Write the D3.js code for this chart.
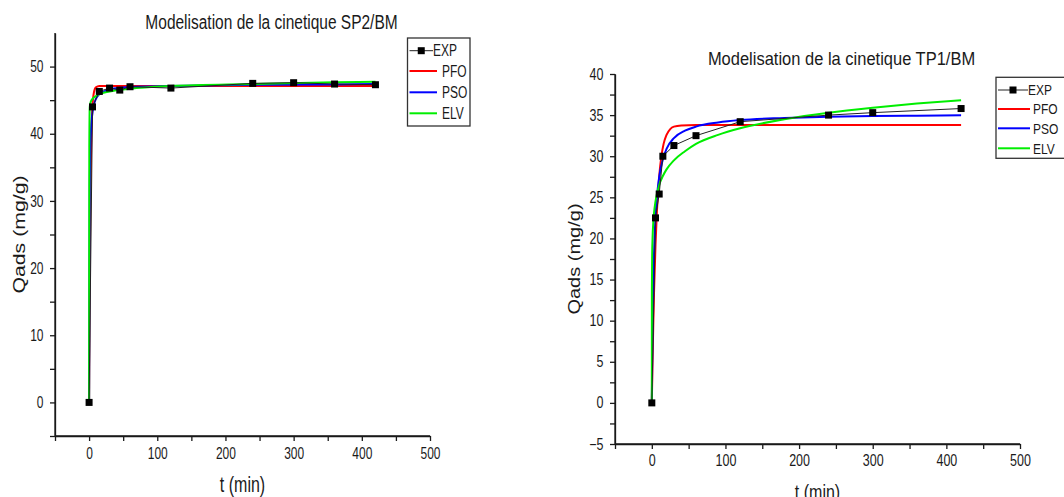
<!DOCTYPE html>
<html>
<head>
  <meta charset="utf-8">
  <script src="https://d3js.org/d3.v7.min.js"></script>
  <style>
  body { margin: 0; background: white; }
  svg { display: block; font-family: "Liberation Sans", Arial, sans-serif; }
  .axis path, .axis line { stroke: #1a1a1a; stroke-width: 1.3px; }
  .axis text { fill: #1a1a1a; }
  </style>
</head>
<body>
<svg id="chart" width="1064" height="497"></svg>
<script>
// ---- SP2/BM (left panel) ----
const tSP2 = [0, 5, 15, 30, 45, 60, 120, 240, 300, 360, 420];
const qSP2 = [0, 44.0, 46.3, 46.8, 46.5, 47.0, 46.8, 47.5, 47.6, 47.4, 47.3];
const tPfoSP2 = [0, 1, 2, 3, 4, 5, 7, 10, 15, 20, 30, 60, 120, 240, 360, 420];
const qPfoSP2 = [0, 19.9, 31.4, 38.1, 41.9, 44.1, 46.1, 46.9, 47.1, 47.1, 47.1, 47.1, 47.1, 47.1, 47.1, 47.1];
const tPsoSP2 = [0, 1, 2, 3, 4, 5, 7, 10, 15, 20, 30, 60, 120, 240, 360, 420];
const qPsoSP2 = [0, 32.2, 38.2, 40.9, 42.3, 43.2, 44.3, 45.2, 45.9, 46.2, 46.6, 46.95, 47.1, 47.3, 47.35, 47.4];
const tElvSP2 = [0, 0.3, 0.6, 1, 2, 3, 5, 10, 15, 30, 60, 120, 240, 360, 420];
const qElvSP2 = [0, 38, 42, 44.0, 44.6, 44.9, 45.2, 45.6, 45.9, 46.3, 46.7, 47.1, 47.4, 47.65, 47.75];

// ---- TP1/BM (right panel) ----
const tTP1 = [0, 5, 10, 15, 30, 60, 120, 240, 300, 420];
const qTP1 = [0, 22.5, 25.4, 30.0, 31.3, 32.5, 34.2, 35.0, 35.3, 35.8];
const tPfoTP1 = [0, 1, 2, 3, 5, 7, 10, 13, 16, 20, 25, 30, 40, 60, 120, 240, 420];
const qPfoTP1 = [0, 5.2, 9.6, 13.4, 19.2, 23.4, 27.5, 30.0, 31.5, 32.6, 33.3, 33.6, 33.75, 33.8, 33.8, 33.8, 33.8];
const tPsoTP1 = [0, 1, 2, 3, 5, 7, 10, 15, 20, 30, 45, 60, 90, 120, 180, 240, 300, 360, 420];
const qPsoTP1 = [0, 9.2, 14.6, 18.2, 22.5, 25.1, 27.5, 29.6, 30.9, 32.2, 33.1, 33.6, 34.1, 34.4, 34.65, 34.8, 34.88, 34.92, 34.97];
const tElvTP1 = [0, 0.1, 0.5, 1, 2, 3, 5, 10, 15, 20, 30, 45, 60, 90, 120, 180, 240, 300, 360, 420];
const qElvTP1 = [0, 13.6, 18.1, 20.0, 21.96, 23.1, 24.5, 26.5, 27.6, 28.4, 29.5, 30.6, 31.5, 32.6, 33.4, 34.5, 35.3, 35.9, 36.4, 36.8];

const legendNames = ["EXP", "PFO", "PSO", "ELV"];
const modelColors = ["#ff0000", "#0000ff", "#00ee00"];
const xMajor = [0, 100, 200, 300, 400, 500];
const xMinor = [-50, 50, 150, 250, 350, 450];

const svg = d3.select("#chart");

function zip(ts, qs) { return ts.map(function(t, i) { return [t, qs[i]]; }); }

function panel(cfg) {
  var x = d3.scaleLinear().domain(cfg.xDomain).range(cfg.xRange);
  var y = d3.scaleLinear().domain(cfg.yDomain).range(cfg.yRange);
  var sy = cfg.sy;
  var g = svg.append("g");
  var axisY = cfg.yRange[0];

  // minor ticks
  g.append("g").attr("class", "axis").attr("transform", "translate(" + cfg.xRange[0] + ",0)")
    .call(d3.axisLeft(y).tickValues(cfg.yMinor).tickSize(5).tickSizeOuter(0).tickFormat(""));
  g.append("g").attr("class", "axis").attr("transform", "translate(0," + axisY + ")")
    .call(d3.axisBottom(x).tickValues(xMinor).tickSize(5).tickSizeOuter(0).tickFormat(""));

  // major ticks
  var ya = g.append("g").attr("class", "axis").attr("transform", "translate(" + cfg.xRange[0] + ",0)")
    .call(d3.axisLeft(y).tickValues(cfg.yMajor).tickSize(5).tickSizeOuter(0).tickPadding(6.5));
  ya.selectAll("text").style("font-size", cfg.tickFont + "px").attr("transform", "scale(1," + sy + ")");
  var xa = g.append("g").attr("class", "axis").attr("transform", "translate(0," + axisY + ")")
    .call(d3.axisBottom(x).tickValues(xMajor).tickSize(5).tickSizeOuter(0));
  xa.selectAll("text").style("font-size", cfg.tickFont + "px")
    .attr("y", cfg.xLabelOff / sy).attr("transform", "scale(1," + sy + ")");
  ya.select(".domain").remove();
  xa.select(".domain").remove();
  g.append("line").attr("x1", cfg.xRange[0]).attr("x2", cfg.xRange[0])
    .attr("y1", cfg.yRange[0]).attr("y2", cfg.yRange[1]).attr("stroke", "#1a1a1a").attr("stroke-width", 1.3);
  g.append("line").attr("x1", cfg.xRange[0]).attr("x2", cfg.xRange[1])
    .attr("y1", axisY).attr("y2", axisY).attr("stroke", "#1a1a1a").attr("stroke-width", 1.3);

  // titles
  var xm = (cfg.xRange[0] + cfg.xRange[1]) / 2;
  var ym = (cfg.yRange[0] + cfg.yRange[1]) / 2;
  g.append("text").attr("transform", "translate(" + cfg.titleX + "," + cfg.titleY + ") scale(1," + cfg.titleSy + ")")
    .attr("text-anchor", "middle").style("font-size", cfg.titleFont + "px").attr("fill", "#1a1a1a")
    .text(cfg.title);
  g.append("text").attr("transform", "translate(" + xm + "," + cfg.xTitleY + ") scale(1," + sy + ")")
    .attr("text-anchor", "middle").style("font-size", "16px").attr("fill", "#1a1a1a")
    .text("t (min)");
  g.append("text").attr("transform", "translate(" + cfg.yTitleX + "," + ym + ") scale(1," + sy + ") rotate(-90)")
    .attr("text-anchor", "middle").style("font-size", "16px").attr("fill", "#1a1a1a")
    .text("Qads (mg/g)");

  // model curves
  var line = d3.line().x(function(d) { return x(d[0]); }).y(function(d) { return y(d[1]); })
    .curve(d3.curveMonotoneX);
  cfg.models.forEach(function(m, i) {
    g.append("path").datum(m).attr("d", line).attr("fill", "none")
      .attr("stroke", modelColors[i]).attr("stroke-width", 2);
  });

  // experimental points
  var exp = cfg.exp;
  g.append("path").datum(exp).attr("d", d3.line().x(function(d) { return x(d[0]); }).y(function(d) { return y(d[1]); }))
    .attr("fill", "none").attr("stroke", "#222").attr("stroke-width", 1);
  g.selectAll("rect.pt").data(exp).enter().append("rect").attr("class", "pt")
    .attr("x", function(d) { return x(d[0]) - 3.5; }).attr("y", function(d) { return y(d[1]) - 3.5; })
    .attr("width", 7).attr("height", 7).attr("fill", "black");

  // legend
  var L = cfg.legend;
  g.append("rect").attr("x", L.x).attr("y", L.y).attr("width", L.w).attr("height", L.h)
    .attr("fill", "white").attr("stroke", "#333").attr("stroke-width", 1.3);
  legendNames.forEach(function(name, i) {
    var ry = L.rows[i];
    if (i === 0) {
      g.append("line").attr("x1", L.x + 2).attr("x2", L.expEnd).attr("y1", ry).attr("y2", ry)
        .attr("stroke", "#222").attr("stroke-width", 1);
      g.append("rect").attr("x", (L.x + 2 + L.expEnd) / 2 - 3.5).attr("y", ry - 3.5)
        .attr("width", 7).attr("height", 7).attr("fill", "black");
    } else {
      g.append("line").attr("x1", L.x + 2).attr("x2", L.lineEnd).attr("y1", ry).attr("y2", ry)
        .attr("stroke", modelColors[i - 1]).attr("stroke-width", 2);
    }
    g.append("text").attr("transform", "translate(" + (i === 0 ? L.expEnd : L.textX) + "," + (ry + 4.3 * sy) + ") scale(1," + sy + ")")
      .style("font-size", "12px").attr("fill", "#1a1a1a").text(name);
  });
}

panel({
  xDomain: [-50, 500], xRange: [55, 430],
  yDomain: [-5, 55], yRange: [436, 33],
  yMajor: [0, 10, 20, 30, 40, 50], yMinor: [-5, 5, 15, 25, 35, 45],
  sy: 1.33, tickFont: 12, xLabelOff: 11.8,
  title: "Modelisation de la cinetique SP2/BM", titleX: 271.5, titleY: 29.3, titleFont: 15.5, titleSy: 1.25,
  xTitleY: 492, yTitleX: 25,
  exp: zip(tSP2, qSP2),
  models: [zip(tPfoSP2, qPfoSP2), zip(tPsoSP2, qPsoSP2), zip(tElvSP2, qElvSP2)],
  legend: { x: 407.5, y: 38, w: 62.5, h: 88, rows: [50.7, 71, 92.3, 113.3], expEnd: 433, lineEnd: 437, textX: 442 }
});

panel({
  xDomain: [-50, 500], xRange: [615, 1020],
  yDomain: [-5, 40], yRange: [444, 74],
  yMajor: [-5, 0, 5, 10, 15, 20, 25, 30, 35, 40], yMinor: [-2.5, 2.5, 7.5, 12.5, 17.5, 22.5, 27.5, 32.5, 37.5],
  sy: 1.25, tickFont: 12.5, xLabelOff: 11.4,
  title: "Modelisation de la cinetique TP1/BM", titleX: 841.5, titleY: 65, titleFont: 16.5, titleSy: 1.12,
  xTitleY: 499, yTitleX: 580,
  exp: zip(tTP1, qTP1),
  models: [zip(tPfoTP1, qPfoTP1), zip(tPsoTP1, qPsoTP1), zip(tElvTP1, qElvTP1)],
  legend: { x: 996, y: 77.3, w: 80, h: 81, rows: [90, 109, 128.3, 148.3], expEnd: 1028, lineEnd: 1030, textX: 1033 }
});
</script>
</body>
</html>
